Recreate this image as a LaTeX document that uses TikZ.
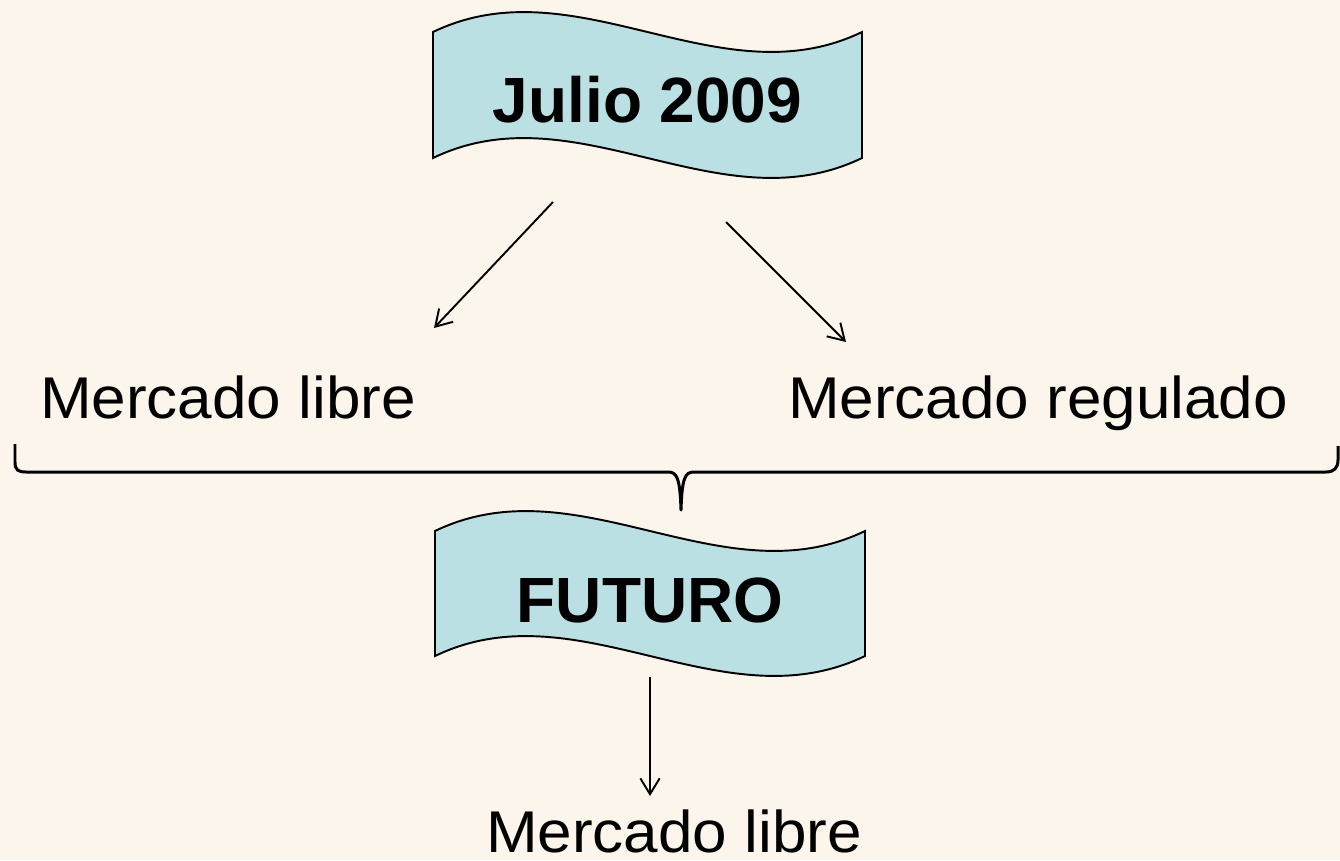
\documentclass[tikz,border=0pt]{standalone}
\usepackage{fontspec}
\setmainfont{Liberation Sans}
\usetikzlibrary{arrows.meta}
\definecolor{bgcream}{RGB}{251,245,235}
\definecolor{wavefill}{RGB}{187,224,228}
\begin{document}
\begin{tikzpicture}[x=0.02cm,y=-0.02cm,
  wavebox/.style={draw=black, line width=1.1pt, fill=wavefill},
  conn/.style={line width=1.1pt, -{Straight Barb[length=9pt,width=11pt,line width=1.1pt]}},
  bracepath/.style={line width=1.7pt, line join=round},
  boldtxt/.style={inner sep=0pt, font=\fontsize{36.4pt}{40pt}\selectfont\bfseries},
  regtxt/.style={inner sep=0pt, font=\fontsize{35.3pt}{40pt}\selectfont}]
\fill[bgcream] (0,0) rectangle (1340,860);
\useasboundingbox (0,0) rectangle (1340,860);

% wave banners
\draw[wavebox] (433,32) .. controls (576,-37) and (719,101) .. (862,32)
  -- (862,158) .. controls (719,227) and (576,89) .. (433,158) -- cycle;
\draw[wavebox] (435,531) .. controls (578,462) and (722,600) .. (865,531)
  -- (865,656) .. controls (722,725) and (578,587) .. (435,656) -- cycle;

% texts
\node[boldtxt, anchor=base] (julio) at (647.5,122) {Julio 2009};
\node[boldtxt, anchor=base] (futuro) at (650,622) {FUTURO};
\node[regtxt, anchor=base] (libre1) at (228,418) {\scalebox{1}[0.95]{Mercado libre}};
\node[regtxt, anchor=base] (regulado) at (1038,418) {\scalebox{1}[0.95]{Mercado regulado}};
\node[regtxt, anchor=base] (libre2) at (674,852) {\scalebox{1}[0.95]{Mercado libre}};

% arrow ends
\coordinate (a1s) at (553,202);
\coordinate (a1e) at (434,328);
\coordinate (a2s) at (726,222);
\coordinate (a2e) at (846,342);
\coordinate (a3s) at (650,677);
\coordinate (a3e) at (650,796);
\draw[conn] (a1s) -- (a1e);
\draw[conn] (a2s) -- (a2e);
\draw[conn] (a3s) -- (a3e);

% brace
\draw[bracepath] (15,444) -- (15,462) .. controls (15,470) and (18,472) .. (26,472)
  -- (668,472) .. controls (677,472) and (680,478) .. (681,510)
  .. controls (682,478) and (685,472) .. (694,472)
  -- (1326,472) .. controls (1334,472) and (1338,468) .. (1338,460) -- (1338,446);
\end{tikzpicture}
\end{document}
